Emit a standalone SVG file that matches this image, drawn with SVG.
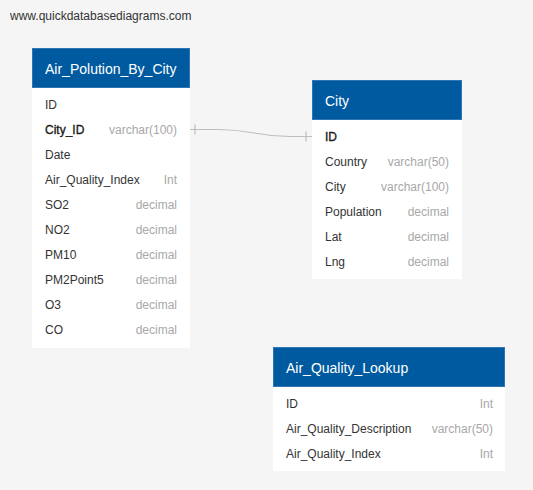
<svg xmlns="http://www.w3.org/2000/svg" width="533" height="490" viewBox="0 0 533 490">
<style>
text{font-family:"Liberation Sans",Arial,sans-serif}
.hdr{fill:#005a9f;stroke:#2f74b5;stroke-width:1}
.body{fill:#ffffff}
.title{fill:#ffffff;font-size:14px}
.f{fill:#333333;font-size:12px}
.pk{fill:#1a1a1a;font-size:12px;stroke:#1a1a1a;stroke-width:0.35}
.t{fill:#a8a8a8;font-size:12px;text-anchor:end}
.conn{fill:none;stroke:#bdbdbd;stroke-width:1.2}
</style>
<rect width="533" height="490" fill="#f4f5f4"/>
<text x="10" y="19.5" class="f" style="font-size:12px;fill:#333">www.quickdatabasediagrams.com</text>
<g id="connectors">
<path class="conn" d="M190,129.5 L218,129.5 C254,129.5 254,136.5 290,136.5 L312,136.5"/>
<path class="conn" d="M195,124.5 V134.5"/>
<path class="conn" d="M306,131.5 V141.5"/>
</g>
<g id="Air_Polution_By_City">
<rect class="body" x="32" y="88" width="158" height="260"/>
<rect class="hdr" x="32.5" y="48.5" width="157" height="39"/>
<text class="title" x="45" y="73.5">Air_Polution_By_City</text>
<text class="f" x="45" y="108.5">ID</text>
<text class="pk" x="45" y="133.5">City_ID</text><text class="t" x="177" y="133.5">varchar(100)</text>
<text class="f" x="45" y="158.5">Date</text>
<text class="f" x="45" y="183.5">Air_Quality_Index</text><text class="t" x="177" y="183.5">Int</text>
<text class="f" x="45" y="208.5">SO2</text><text class="t" x="177" y="208.5">decimal</text>
<text class="f" x="45" y="233.5">NO2</text><text class="t" x="177" y="233.5">decimal</text>
<text class="f" x="45" y="258.5">PM10</text><text class="t" x="177" y="258.5">decimal</text>
<text class="f" x="45" y="283.5">PM2Point5</text><text class="t" x="177" y="283.5">decimal</text>
<text class="f" x="45" y="308.5">O3</text><text class="t" x="177" y="308.5">decimal</text>
<text class="f" x="45" y="333.5">CO</text><text class="t" x="177" y="333.5">decimal</text>
</g>
<g id="City">
<rect class="body" x="312" y="120" width="150" height="159"/>
<rect class="hdr" x="312.5" y="80.5" width="149" height="39"/>
<text class="title" x="325" y="105.5">City</text>
<text class="pk" x="325" y="140.5">ID</text>
<text class="f" x="325" y="165.5">Country</text><text class="t" x="449" y="165.5">varchar(50)</text>
<text class="f" x="325" y="190.5">City</text><text class="t" x="449" y="190.5">varchar(100)</text>
<text class="f" x="325" y="215.5">Population</text><text class="t" x="449" y="215.5">decimal</text>
<text class="f" x="325" y="240.5">Lat</text><text class="t" x="449" y="240.5">decimal</text>
<text class="f" x="325" y="265.5">Lng</text><text class="t" x="449" y="265.5">decimal</text>
</g>
<g id="Air_Quality_Lookup">
<rect class="body" x="273" y="387" width="232" height="84"/>
<rect class="hdr" x="273.5" y="347.5" width="231" height="39"/>
<text class="title" x="286" y="372.5">Air_Quality_Lookup</text>
<text class="f" x="286" y="407.5">ID</text><text class="t" x="493" y="407.5">Int</text>
<text class="f" x="286" y="432.5">Air_Quality_Description</text><text class="t" x="493" y="432.5">varchar(50)</text>
<text class="f" x="286" y="457.5">Air_Quality_Index</text><text class="t" x="493" y="457.5">Int</text>
</g>
</svg>
